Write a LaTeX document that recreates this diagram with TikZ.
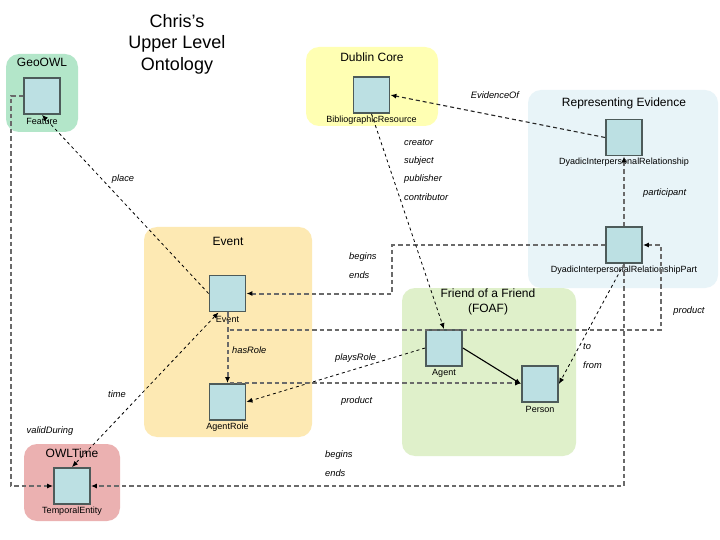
\documentclass[tikz,border=0pt]{standalone}
\usepackage{fontspec}
\setmainfont{Liberation Sans}
\usetikzlibrary{calc,arrows.meta}
\definecolor{cgeo}{HTML}{B3E6C9}
\definecolor{cdub}{HTML}{FFFFB3}
\definecolor{crep}{HTML}{E8F4F8}
\definecolor{cevt}{HTML}{FDE9B3}
\definecolor{cfoaf}{HTML}{DFF0CA}
\definecolor{ctime}{HTML}{EBB1B1}
\definecolor{sqfill}{HTML}{BCE0E3}
\definecolor{sqborder}{HTML}{4D5B5A}
\definecolor{dgray}{HTML}{6A6A6A}
\tikzset{
  grp/.style={rounded corners=13pt},
  sq/.style={draw=sqborder, fill=sqfill, line width=1.8pt, minimum size=36pt, inner sep=0pt},
  lbl/.style={font=\fontsize{9}{10}\selectfont, inner sep=0pt},
  rel/.style={font=\itshape\fontsize{9.3}{10}\selectfont, inner sep=0pt},
  grpt/.style={font=\fontsize{12}{14}\selectfont, inner sep=0pt, align=center},
  gdash/.style={draw=dgray, line width=2pt, dash pattern=on 4.5pt off 3pt, -{Latex[length=6pt,width=5pt,color=black]}},
  tdash/.style={draw=black, line width=0.8pt, dash pattern=on 3pt off 3pt, -{Latex[length=6pt,width=5pt]}},
  mdash/.style={draw=black!85, line width=1.1pt, dash pattern=on 4pt off 3pt, -{Latex[length=6pt,width=5pt,color=black]}},
  solidarr/.style={draw=black, line width=1.1pt, -{Latex[length=6pt,width=5pt]}}
}
\begin{document}
\begin{tikzpicture}[x=1pt,y=-1pt]
\useasboundingbox (0,0) rectangle (720,540);
\fill[white] (0,0) rectangle (720,540);
% groups
\fill[cgeo,grp] (6,54) rectangle (78,132);
\fill[cdub,grp] (306,47) rectangle (438,126);
\fill[crep,grp] (528,90) rectangle (718,288);
\fill[cevt,grp] (144,227) rectangle (312,437);
\fill[cfoaf,grp] (402,288) rectangle (576,456);
\fill[ctime,grp] (24,444) rectangle (120,521);
% title
\node[font=\fontsize{18}{21.5}\selectfont, align=center, inner sep=0pt] (title) at (177,44) {Chris’s\\Upper Level\\Ontology};
% group titles
\node[grpt] (tgeo) at (42,62) {GeoOWL};
\node[grpt] (tdub) at (372,57) {Dublin Core};
\node[grpt] (trep) at (624,103) {Representing Evidence};
\node[grpt] (tevt) at (228,241) {Event};
\node[grpt, font=\fontsize{12}{15}\selectfont] (tfoaf) at (488,302) {Friend of a Friend\\(FOAF)};
\node[grpt] (ttime) at (72,453) {OWLTime};
% squares
\node[sq] (feature) at (42,96) {};
\node[sq] (bib) at (371.5,95) {};
\node[sq] (dir) at (624,137.5) {};
\node[sq] (dirp) at (624,245) {};
\node[sq] (event) at (227.5,293.5) {};
\node[sq] (agentrole) at (227.5,402) {};
\node[sq] (agent) at (444,348) {};
\node[sq] (person) at (540,384) {};
\node[sq] (temporal) at (72,486) {};
% square labels
\node[lbl] (lfeature) at (42,121) {Feature};
\node[lbl] (lbib) at (371.5,120.5) {BibliographicResource};
\node[lbl] (ldir) at (624,162) {DyadicInterpersonalRelationship};
\node[lbl] (ldirp) at (624,270) {DyadicInterpersonalRelationshipPart};
\node[lbl] (levent) at (227.5,319) {Event};
\node[lbl] (lagentrole) at (227.5,427) {AgentRole};
\node[lbl] (lagent) at (444,373) {Agent};
\node[lbl] (lperson) at (540,409) {Person};
\node[lbl] (ltemporal) at (72,511) {TemporalEntity};
% connectors between nodes
\draw[gdash] (feature.west) -- ++(-12,0) |- (temporal.west);
\draw[tdash] (event.west) -- (feature.south);
\draw[tdash, {Latex[length=6pt,width=5pt]}-{Latex[length=6pt,width=5pt]}] ($(event.south)+(-9,0)$) -- (temporal.north);
\draw[gdash] (event.south) -- (agentrole.north);
\coordinate (pj) at ($(event.south)+(2,17.5)$);
\draw[gdash] (pj) -| ($(dirp.east)+(18,0)$) -- (dirp.east);
\draw[gdash] (dirp.west) -| ($(event.east)+(146,0)$) -- (event.east);
\draw[tdash] (agent.west) -- (agentrole.east);
\coordinate (pk) at ($(agentrole.north)+(2,0)$);
\draw[gdash] (pk) -- (pk -| person.west);
\draw[solidarr] (agent.east) -- (person.west);
\draw[tdash] (dirp.south) -- (person.east);
\draw[gdash] (dirp.north) -- (dir.south);
\draw[mdash] (dir.west) -- (bib.east);
\draw[tdash] (bib.south) -- (agent.north);
\draw[gdash] (dirp.south) |- (temporal.east);
% relation labels
\node[rel] (rplace) at (123,179) {place};
\node[rel] (rtime) at (117,394) {time};
\node[rel] (rvalid) at (50,431) {validDuring};
\node[rel, anchor=west] (rhas) at (232,350) {hasRole};
\node[rel, anchor=west] (rbeg1) at (349,257) {begins};
\node[rel, anchor=west] (rend1) at (349,275) {ends};
\node[rel, anchor=west] (rplays) at (335,358) {playsRole};
\node[rel, anchor=west] (rprod1) at (341,401) {product};
\node[rel] (rprod2) at (689,311) {product};
\node[rel, anchor=west] (rto) at (583,347) {to};
\node[rel, anchor=west] (rfrom) at (583,365) {from};
\node[rel, anchor=west] (rpart) at (643,193) {participant};
\node[rel] (revid) at (495,95) {EvidenceOf};
\node[rel, anchor=west] (rcre) at (404,143) {creator};
\node[rel, anchor=west] (rsub) at (404,161) {subject};
\node[rel, anchor=west] (rpub) at (404,179) {publisher};
\node[rel, anchor=west] (rcon) at (404,197) {contributor};
\node[rel, anchor=west] (rbeg2) at (325,455) {begins};
\node[rel, anchor=west] (rend2) at (325,473) {ends};
\end{tikzpicture}
\end{document}
